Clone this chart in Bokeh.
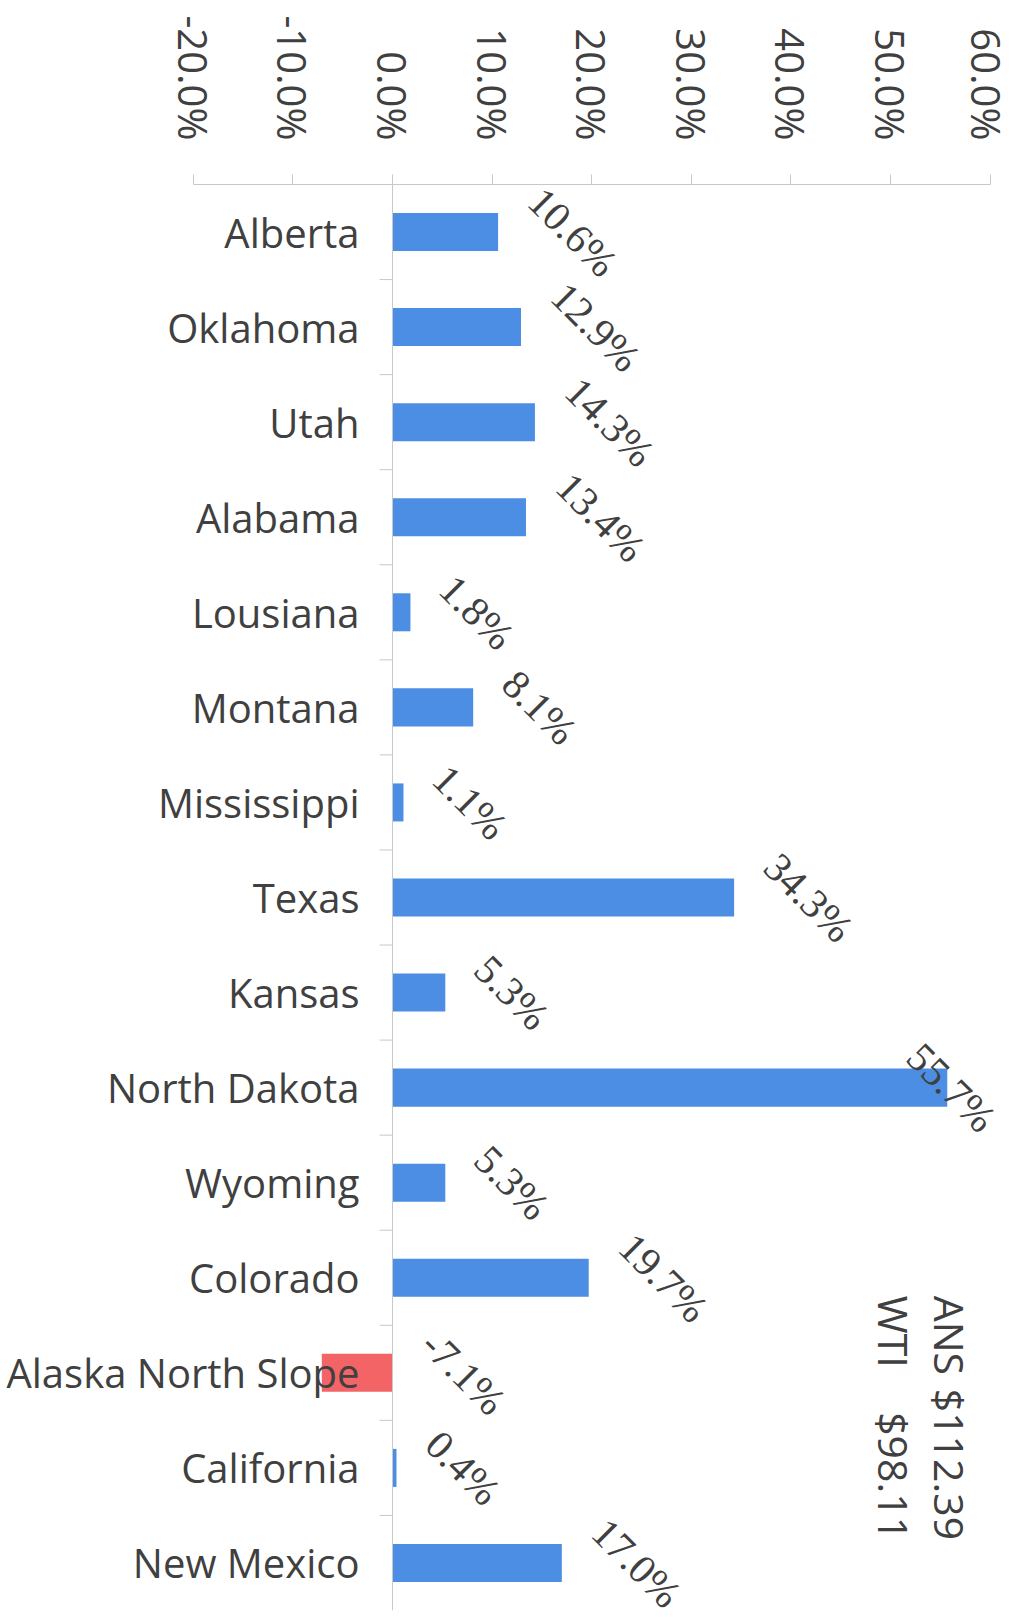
import math
from bokeh.plotting import figure
from bokeh.models import (FactorRange, Range1d, CategoricalAxis, PrintfTickFormatter,
                          FixedTicker, ColumnDataSource, Label, LabelSet)
from bokeh.transform import dodge
from bokeh.embed import file_html
from bokeh.resources import INLINE

# ---- data ----
regions = ["Alberta", "Oklahoma", "Utah", "Alabama", "Lousiana", "Montana", "Mississippi",
           "Texas", "Kansas", "North Dakota", "Wyoming", "Colorado", "Alaska North Slope",
           "California", "New Mexico"]
changes = [10.6, 12.9, 14.3, 13.4, 1.8, 8.1, 1.1, 34.3, 5.3, 55.7, 5.3, 19.7, -7.1, 0.4, 17.0]
x_ticks = [-20, -10, 0, 10, 20, 30, 40, 50, 60]
benchmark_names = ["ANS", "WTI"]
benchmark_prices = ["$112.39", "$98.11"]

# ---- styling / layout ----
FONT = "Open Sans"
TEXT = "#404040"
AXIS = "#c8c8c8"
BLUE = "#4b8ee4"
RED = "#f26466"
LABEL_PX = 41
W, H = 1013, 1617
X_START, X_END = -39.36, 62.35
PX_PER = W / (X_END - X_START)
LABEL_MAX_PX = 951          # rightmost centre for a data label (keeps it inside the chart)
CHAR_W = {".": 0.267, "%": 0.83, "-": 0.322}


def text_len(s, px):
    return sum(CHAR_W.get(c, 0.572) for c in s) * px


labels = [f"{v:.1f}%" for v in changes]
offs = []
for v, s in zip(changes, labels):
    base = max(v, 0)
    off = 34 + 0.354 * text_len(s, LABEL_PX)
    end_px = (base - X_START) * PX_PER
    offs.append(min(off, LABEL_MAX_PX - end_px))

src = ColumnDataSource(dict(
    region=regions,
    change=changes,
    color=[BLUE if v >= 0 else RED for v in changes],
    lx=[max(v, 0) for v in changes],
    label=labels,
    off=offs,
    zero=[0] * len(regions),
    tick_end=[-1.3] * len(regions),
))

p = figure(width=W, height=H,
           x_range=Range1d(X_START, X_END),
           y_range=FactorRange(factors=list(reversed(regions))),
           x_axis_location="above", y_axis_location=None,
           min_border_left=0, min_border_right=0, min_border_top=184, min_border_bottom=7,
           output_backend="svg", toolbar_location=None)
p.outline_line_color = None
p.background_fill_color = "white"
p.border_fill_color = "white"
p.grid.visible = False

xa = p.xaxis[0]
xa.ticker = FixedTicker(ticks=x_ticks)
xa.bounds = (x_ticks[0], x_ticks[-1])
xa.formatter = PrintfTickFormatter(format="%.1f%%")
xa.major_label_orientation = -math.pi / 2
xa.major_tick_out = 10
xa.major_tick_in = 0
xa.minor_tick_line_color = None
xa.axis_line_color = AXIS
xa.major_tick_line_color = AXIS
xa.major_label_text_font = FONT
xa.major_label_text_font_size = "40px"
xa.major_label_text_color = TEXT
xa.major_label_standoff = 34

ya = CategoricalAxis(fixed_location=0)
ya.axis_line_color = AXIS
ya.major_tick_line_color = None
ya.minor_tick_line_color = None
ya.major_label_text_font = FONT
ya.major_label_text_font_size = "40px"
ya.major_label_text_color = TEXT
ya.major_label_standoff = 27
p.add_layout(ya, "left")

# boundary tick marks on the category axis
p.segment(x0="zero", x1="tick_end",
          y0=dodge("region", 0.5, range=p.y_range), y1=dodge("region", 0.5, range=p.y_range),
          line_color=AXIS, line_width=1, source=src)

p.hbar(y="region", left=0, right="change", height=0.4, fill_color="color",
       line_color=None, source=src)

p.add_layout(LabelSet(x="lx", y="region", text="label", x_offset="off", angle=-math.pi / 4,
                      text_align="center", text_baseline="middle",
                      text_font=FONT, text_font_size=f"{LABEL_PX}px", text_color=TEXT,
                      source=src))

for name, price, nx in zip(benchmark_names, benchmark_prices, [56.0, 50.4]):
    p.add_layout(Label(x=nx, y=3.31, text=name, angle=-math.pi / 2,
                       text_align="left", text_baseline="middle",
                       text_font=FONT, text_font_size="41px", text_color=TEXT))
    p.add_layout(Label(x=nx, y=0.74, text=price, angle=-math.pi / 2,
                       text_align="right", text_baseline="middle",
                       text_font=FONT, text_font_size="41px", text_color=TEXT))

open("out.html", "w").write(file_html(p, INLINE))
